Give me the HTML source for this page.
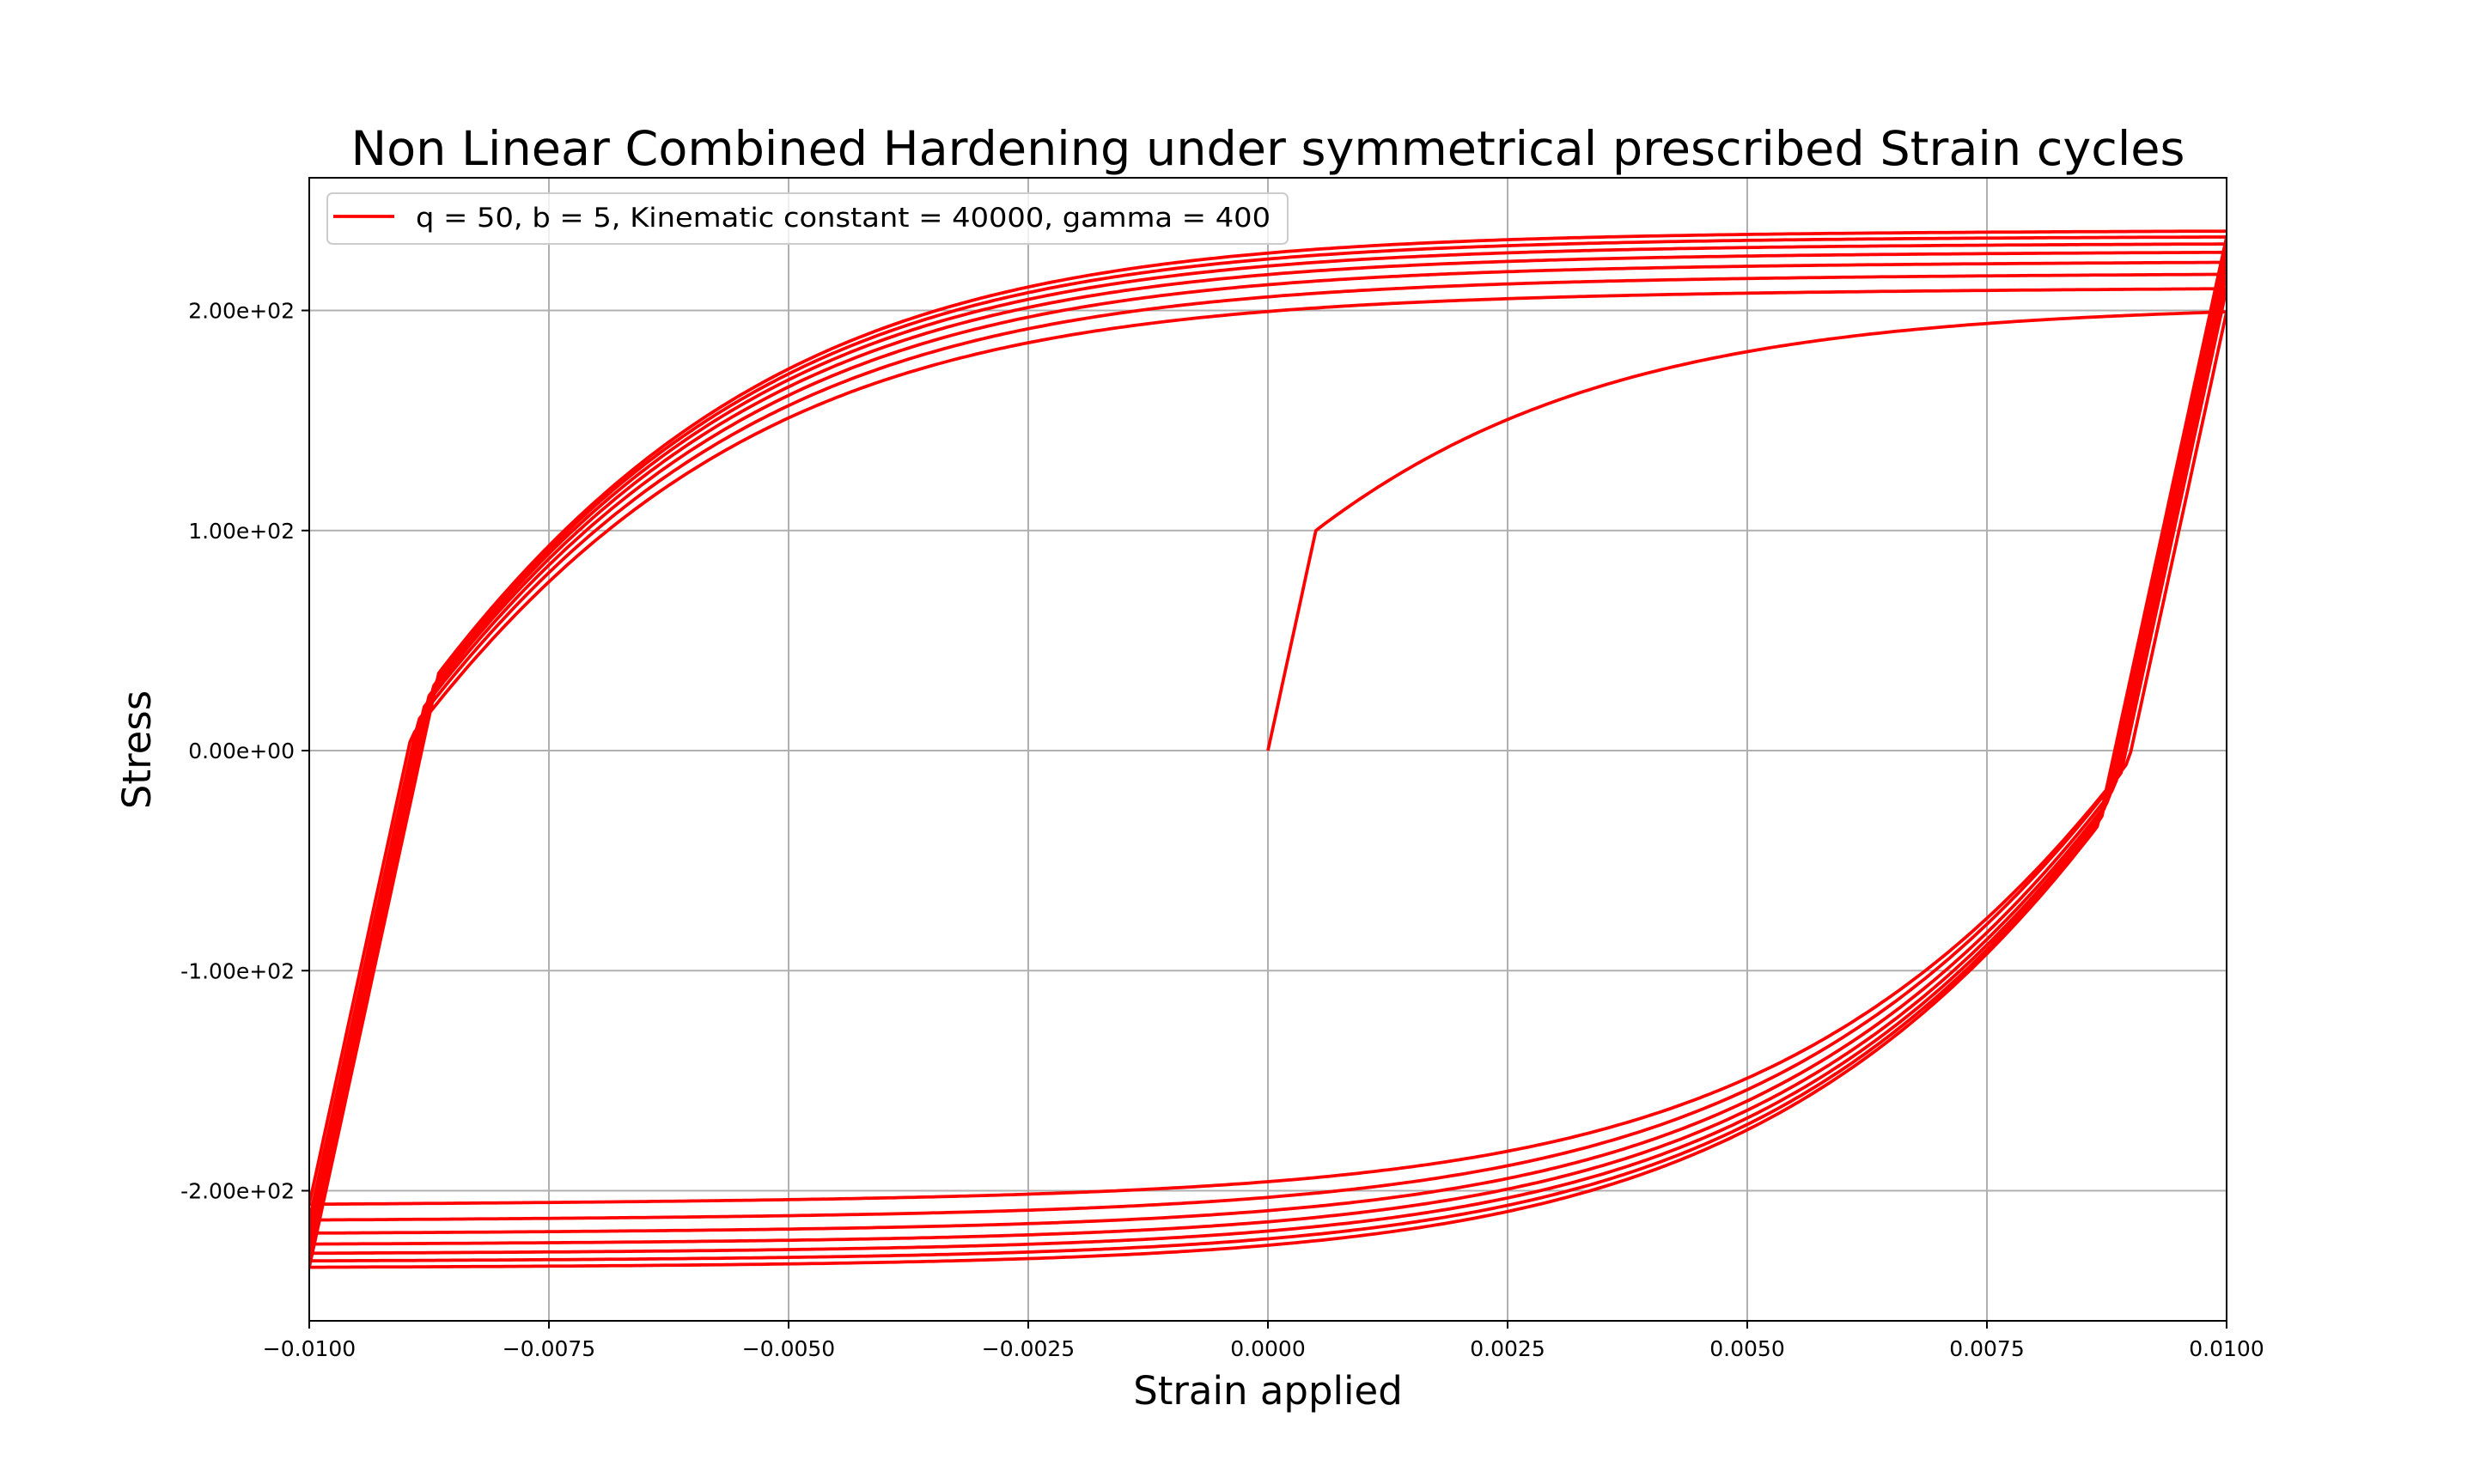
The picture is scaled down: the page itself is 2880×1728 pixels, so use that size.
<!DOCTYPE html>
<html><head><meta charset="utf-8">
<style>html,body{margin:0;padding:0;background:#fff;}svg{display:block;}</style>
</head><body>
<svg id="s" width="2880" height="1728" viewBox="0 0 2880 1728" xmlns="http://www.w3.org/2000/svg" font-family="DejaVu Sans, Liberation Sans, sans-serif">
<rect width="2880" height="1728" fill="#fff"/>
<g id="grid" stroke="#b0b0b0" stroke-width="2"></g>
<defs><clipPath id="c"><rect x="360" y="207" width="2232" height="1331"/></clipPath></defs>
<path id="curve" clip-path="url(#c)" fill="none" stroke="#ff0000" stroke-width="3.75" stroke-linejoin="round"/>
<rect x="360" y="207" width="2232" height="1331" fill="none" stroke="#000" stroke-width="2"/>
<g id="ticks" stroke="#000" stroke-width="2"></g>
<g id="labels" font-size="25" fill="#000"></g>
<text x="1476" y="192" font-size="55" text-anchor="middle" textLength="2135" lengthAdjust="spacingAndGlyphs">Non Linear Combined Hardening under symmetrical prescribed Strain cycles</text>
<text x="1476" y="1635" font-size="45" text-anchor="middle">Strain applied</text>
<text transform="translate(175,873) rotate(-90)" font-size="45" text-anchor="middle">Stress</text>
<rect x="381" y="225" width="1118" height="59" rx="6" fill="#fff" fill-opacity="0.8" stroke="#cccccc" stroke-width="2"/>
<line x1="388" y1="252" x2="459" y2="252" stroke="#ff0000" stroke-width="3.75"/>
<text x="484" y="264" font-size="31" textLength="995" lengthAdjust="spacingAndGlyphs">q = 50, b = 5, Kinematic constant = 40000, gamma = 400</text>
</svg>
<script>
(function(){
var L=360,R=2592,T=207,B=1538;
function X(e){return L+(e+0.01)/0.02*(R-L);}
function Y(s){return 874-s*2.5625;}
var ns="http://www.w3.org/2000/svg";
function el(p,n,a,t){var e=document.createElementNS(ns,n);for(var k in a)e.setAttribute(k,a[k]);if(t!=null)e.textContent=t;document.getElementById(p).appendChild(e);}
var xt=[-0.01,-0.0075,-0.005,-0.0025,0,0.0025,0.005,0.0075,0.01];
xt.forEach(function(v){var x=X(v);
 el('grid','line',{x1:x,x2:x,y1:T,y2:B});
 el('ticks','line',{x1:x,x2:x,y1:B,y2:B+9});
 var s=v.toFixed(4); if(v<0)s='\u2212'+(-v).toFixed(4);
 el('labels','text',{x:x,y:B+41,'text-anchor':'middle'},s);});
var yt=[[200,'2.00e+02'],[100,'1.00e+02'],[0,'0.00e+00'],[-100,'-1.00e+02'],[-200,'-2.00e+02']];
yt.forEach(function(a){var y=Y(a[0]);
 el('grid','line',{x1:L,x2:R,y1:y,y2:y});
 el('ticks','line',{x1:L-9,x2:L,y1:y,y2:y});
 el('labels','text',{x:L-17,y:y+9,'text-anchor':'end'},a[1]);});
var E=200000,sy=100,Q=50,b=5,C=40000,g=400;
var ep=0,al=0,p=0,eps=0,pts=[[0,0]];
function Rf(pp){return sy+Q*(1-Math.exp(-b*pp));}
function step(e){
 var st=E*(e-ep),xi=st-al,f=Math.abs(xi)-Rf(p);
 var sig=st;
 if(f>0){var s=xi>=0?1:-1,dg=0;
  for(var it=0;it<60;it++){
   var res=function(d){var a=(al+C*d*s)/(1+g*d);return s*(st-E*d*s-a)-Rf(p+d);};
   var r=res(dg),h=1e-10,dr=(res(dg+h)-r)/h;var n=dg-r/dr;if(n<0)n=0;if(Math.abs(n-dg)<1e-14){dg=n;break;}dg=n;}
  al=(al+C*dg*s)/(1+g*dg);ep+=dg*s;p+=dg;sig=st-E*dg*s;}
 return sig;}
var h=0.00005;
function go(t){var n=Math.round(Math.abs(t-eps)/h),d=(t-eps)/n,e0=eps;for(var i=1;i<=n;i++){var e=e0+d*i;pts.push([e,step(e)]);}eps=t;}
go(0.01);for(var c=0;c<7;c++){go(-0.01);go(0.01);}
var dstr='M'+pts.map(function(q){return X(q[0]).toFixed(1)+','+Y(q[1]).toFixed(1);}).join('L');
document.getElementById('curve').setAttribute('d',dstr);
})();
</script>
</body></html>
